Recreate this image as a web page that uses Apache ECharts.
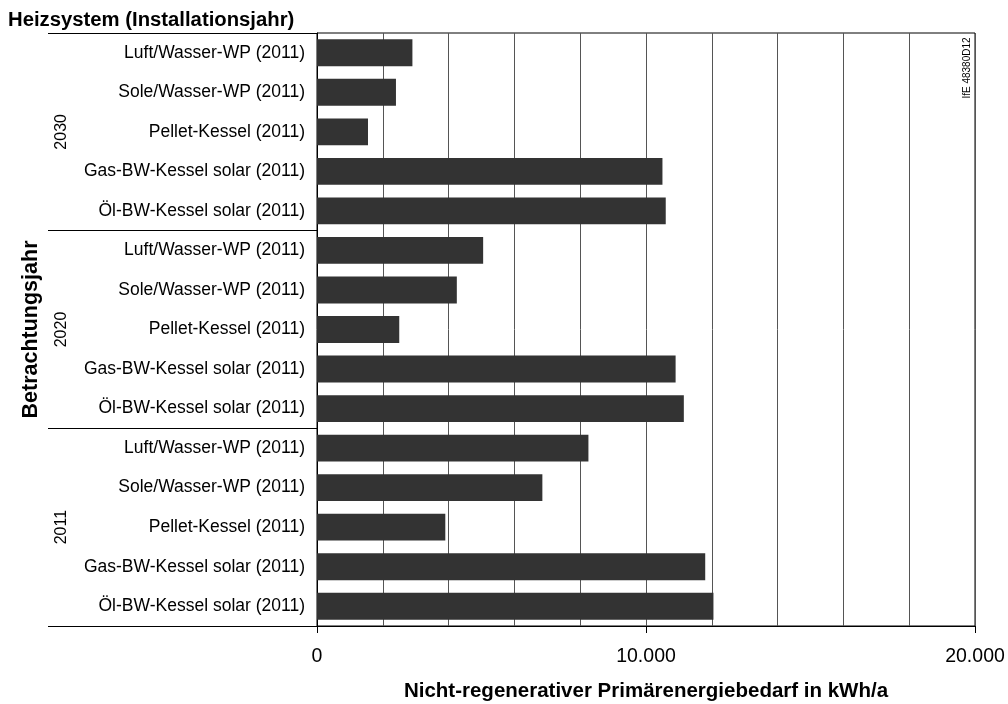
<!DOCTYPE html>
<html>
<head>
<meta charset="utf-8">
<script src="https://cdn.jsdelivr.net/npm/echarts@6/dist/echarts.min.js"></script>
<style>
html,body{margin:0;padding:0;background:#fff;}
#chart{width:1008px;height:704px;}
</style>
</head>
<body>
<div id="chart"></div>
<script>
// ---- data ----
var years = ['2030', '2020', '2011'];
var systems = [
  'Luft/Wasser-WP (2011)',
  'Sole/Wasser-WP (2011)',
  'Pellet-Kessel (2011)',
  'Gas-BW-Kessel solar (2011)',
  'Öl-BW-Kessel solar (2011)'
];
var values2030 = [2900, 2400, 1550, 10500, 10600];
var values2020 = [5050, 4250, 2500, 10900, 11150];
var values2011 = [8250, 6850, 3900, 11800, 12050];
var xTickValues = [0, 10000, 20000];

var title = 'Heizsystem (Installationsjahr)';
var yName = 'Betrachtungsjahr';
var xName = 'Nicht-regenerativer Primärenergiebedarf in kWh/a';
var stamp = 'IfE 48380D12';

// ---- build ----
var categories = [].concat(systems, systems, systems);
var values = [].concat(values2030, values2020, values2011);

function fmt(v) {
  return String(v).replace(/\B(?=(\d{3})+(?!\d))/g, '.');
}

var FONT = "'Liberation Sans', Arial, sans-serif";
var chart = echarts.init(document.getElementById('chart'), null, {renderer: 'canvas'});
chart.setOption({
  backgroundColor: '#ffffff',
  animation: false,
  textStyle: {fontFamily: FONT, color: '#000'},
  title: {
    text: title, left: 8, top: 10, padding: 0,
    textStyle: {fontFamily: FONT, fontSize: 20.3, fontWeight: 'bold', color: '#000'}
  },
  grid: {
    left: 317, right: 33, top: 33, bottom: 78,
    outerBoundsMode: 'none', containLabel: false,
    show: true, borderColor: '#000', borderWidth: 1, backgroundColor: 'transparent'
  },
  xAxis: [
    {
      type: 'value', min: 0, max: 20000, interval: 2000, position: 'bottom',
      axisLine: {show: false}, axisTick: {show: false}, axisLabel: {show: false},
      splitLine: {show: true, lineStyle: {color: '#555', width: 1}}
    },
    {
      type: 'value', min: 0, max: 20000, interval: 10000, position: 'bottom',
      axisLine: {show: true, lineStyle: {color: '#000', width: 1}},
      axisTick: {show: true, length: 7, lineStyle: {color: '#000', width: 1}},
      axisLabel: {
        show: true, margin: 31, verticalAlign: 'middle',
        fontFamily: FONT, fontSize: 19.5, color: '#000',
        formatter: function (v) { return xTickValues.indexOf(v) >= 0 ? fmt(v) : ''; }
      },
      splitLine: {show: false},
      name: xName, nameLocation: 'middle', nameGap: 65,
      nameTextStyle: {fontFamily: FONT, fontSize: 20.5, fontWeight: 'bold', color: '#000', verticalAlign: 'middle'}
    }
  ],
  yAxis: [
    {
      type: 'category', data: categories, inverse: true, position: 'left',
      axisLine: {show: true, lineStyle: {color: '#000', width: 1}},
      axisTick: {show: false},
      axisLabel: {margin: 12, fontFamily: FONT, fontSize: 17.5, color: '#000', interval: 0},
      splitLine: {show: false}
    },
    {
      type: 'category', data: years, inverse: true, position: 'left',
      axisLine: {show: false},
      axisTick: {show: true, interval: 0, length: 269, lineStyle: {color: '#000', width: 1}},
      axisLabel: {
        interval: 0, rotate: 90, margin: 255, align: 'center', verticalAlign: 'middle',
        fontFamily: FONT, fontSize: 16, color: '#000'
      },
      splitLine: {show: false},
      name: yName, nameLocation: 'middle', nameRotate: 90, nameGap: 286,
      nameTextStyle: {fontFamily: FONT, fontSize: 21.5, fontWeight: 'bold', color: '#000', align: 'center', verticalAlign: 'middle'}
    }
  ],
  graphic: [
    {
      type: 'text', x: 967, y: 68, rotation: Math.PI / 2,
      style: {text: stamp, fontFamily: FONT, fontSize: 10, fill: '#000', align: 'center', verticalAlign: 'middle'}
    }
  ],
  series: [
    {
      type: 'bar', xAxisIndex: 0, yAxisIndex: 0, data: values,
      barCategoryGap: '32%',
      itemStyle: {color: '#333333'},
      silent: true
    }
  ]
});
</script>
</body>
</html>
